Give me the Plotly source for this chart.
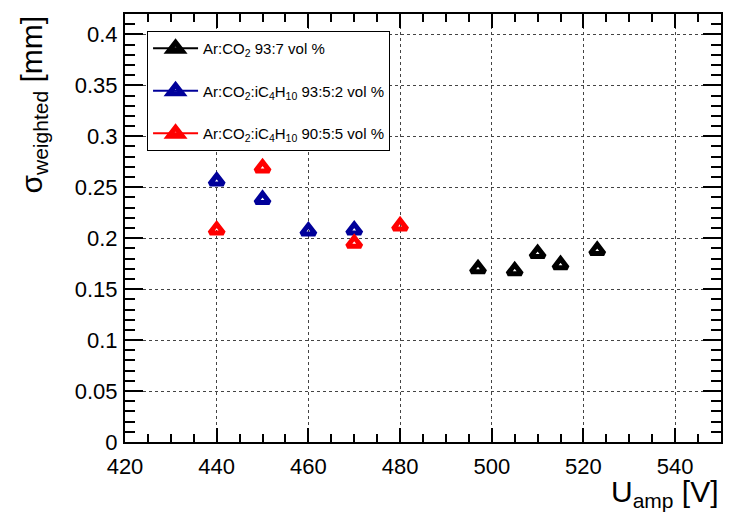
import plotly.graph_objects as go

# Data
u_black = [497, 505, 510, 515, 523]
s_black = [0.170, 0.168, 0.185, 0.174, 0.188]
u_blue = [440, 450, 460, 470]
s_blue = [0.256, 0.238, 0.207, 0.208]
u_red = [440, 450, 470, 480]
s_red = [0.208, 0.269, 0.195, 0.212]

series_names = [
    "Ar:CO<sub>2</sub> 93:7 vol %",
    "Ar:CO<sub>2</sub>:iC<sub>4</sub>H<sub>10</sub> 93:5:2 vol %",
    "Ar:CO<sub>2</sub>:iC<sub>4</sub>H<sub>10</sub> 90:5:5 vol %",
]
series_colors = ["#000000", "#00009A", "#FF0000"]
series_x = [u_black, u_blue, u_red]
series_y = [s_black, s_blue, s_red]

FONT = "Liberation Sans, Arial, Helvetica, sans-serif"

fig = go.Figure()
for i, (name, col, xs, ys) in enumerate(zip(series_names, series_colors, series_x, series_y)):
    mk = dict(symbol="triangle-up-open", size=12, color=col, line=dict(color=col, width=5))
    fig.add_trace(go.Scatter(x=xs, y=ys, mode="markers", marker=mk, showlegend=False,
                             hoverinfo="x+y"))
    # legend entry (line + marker)
    fig.add_trace(go.Scatter(x=[None], y=[None], mode="lines+markers", name=name,
                             marker=mk, line=dict(color=col, width=2),
                             legendgroup=f"g{i}"))

axis_common = dict(
    showline=True, linecolor="black", linewidth=2, mirror="ticks",
    ticks="inside", tickcolor="black", tickwidth=1.5,
    showgrid=True, gridcolor="#444444", griddash="dot", gridwidth=1,
    zeroline=False,
    tickfont=dict(family=FONT, size=22, color="black"),
)

fig.update_xaxes(
    range=[420, 550], tick0=420, dtick=20, ticklen=14,
    minor=dict(dtick=5, ticklen=8, ticks="inside", tickcolor="black", tickwidth=1.5, showgrid=False),
    ticklabelstandoff=4,
    **axis_common,
)
fig.update_yaxes(
    range=[0, 0.42], tick0=0, dtick=0.05, ticklen=18,
    minor=dict(dtick=0.01, ticklen=10, ticks="inside", tickcolor="black", tickwidth=1.5, showgrid=False),
    ticklabelstandoff=1,
    **axis_common,
)

fig.add_annotation(
    text="U<sub>amp</sub> [V]", xref="paper", yref="paper", x=1, y=0,
    xanchor="right", yanchor="top", yshift=-31, showarrow=False,
    font=dict(family=FONT, size=30, color="black"),
)
fig.add_annotation(
    text="σ<sub>weighted</sub> [mm]", xref="paper", yref="paper", x=0, y=1,
    xanchor="right", yanchor="top", xshift=-72, showarrow=False, textangle=-90,
    font=dict(family=FONT, size=30, color="black"),
)

fig.update_layout(
    width=735, height=507,
    margin=dict(l=117, r=22, t=4, b=73),
    paper_bgcolor="white", plot_bgcolor="white",
    font=dict(family=FONT, color="black"),
    showlegend=True,
    legend=dict(
        x=0.037, y=0.96, xanchor="left", yanchor="top",
        bgcolor="white", bordercolor="black", borderwidth=1,
        font=dict(family=FONT, size=15, color="black"),
        tracegroupgap=20, traceorder="grouped", itemwidth=45,
    ),
)

fig.write_html("out.html")
